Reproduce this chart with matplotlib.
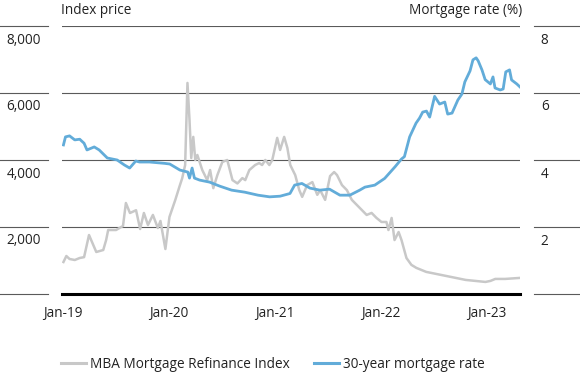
import matplotlib
matplotlib.use("Agg")
import matplotlib.pyplot as plt
import matplotlib.dates as mdates
import matplotlib.transforms as mtransforms
import pandas as pd

# MBA Mortgage Refinance Index (left axis)
refi_dates = [
    "2019-01-03", "2019-01-13", "2019-01-24", "2019-02-11", "2019-02-28", "2019-03-15",
    "2019-04-01", "2019-04-26", "2019-05-20", "2019-05-30", "2019-06-06", "2019-07-03",
    "2019-07-27", "2019-08-06", "2019-08-20", "2019-09-10", "2019-09-24", "2019-10-07",
    "2019-10-21", "2019-11-07", "2019-11-24", "2019-12-03", "2019-12-20", "2020-01-03",
    "2020-01-23", "2020-02-06", "2020-02-16", "2020-02-26", "2020-03-05", "2020-03-12",
    "2020-03-18", "2020-03-25", "2020-04-01", "2020-04-08", "2020-04-25", "2020-05-12",
    "2020-05-22", "2020-06-02", "2020-06-16", "2020-07-03", "2020-07-20", "2020-08-07",
    "2020-08-24", "2020-09-10", "2020-09-20", "2020-10-04", "2020-10-24", "2020-11-07",
    "2020-11-17", "2020-11-28", "2020-12-12", "2020-12-22", "2021-01-08", "2021-01-18",
    "2021-02-01", "2021-02-12", "2021-02-22", "2021-03-11", "2021-03-25", "2021-04-04",
    "2021-04-21", "2021-05-09", "2021-05-26", "2021-06-05", "2021-06-22", "2021-07-09",
    "2021-07-23", "2021-08-02", "2021-08-19", "2021-09-05", "2021-09-22", "2021-10-09",
    "2021-10-26", "2021-11-12", "2021-11-29", "2021-12-16", "2022-01-02", "2022-01-19",
    "2022-01-26", "2022-02-06", "2022-02-16", "2022-03-02", "2022-03-12", "2022-03-29",
    "2022-04-15", "2022-05-02", "2022-06-05", "2022-07-09", "2022-08-12", "2022-09-15",
    "2022-10-19", "2022-11-22", "2022-12-26", "2023-01-12", "2023-01-29", "2023-03-04",
    "2023-04-20",
]
refi_values = [
    955, 1134, 1045, 1015, 1075, 1100,
    1761, 1254, 1313, 1612, 1910, 1910,
    2030, 2716, 2418, 2500, 1940, 2418,
    2060, 2360, 1970, 2180, 1343, 2300,
    2806, 3194, 3460, 3850, 6300, 5200,
    4060, 4690, 4000, 4150, 3700, 3400,
    3700, 3160, 3550, 3940, 4000, 3400,
    3300, 3460, 3400, 3700, 3850, 3910,
    3850, 4000, 3850, 4000, 4660, 4300,
    4690, 4360, 3850, 3550, 3100, 2900,
    3250, 3340, 2960, 3100, 2810, 3520,
    3640, 3550, 3250, 3100, 2810, 2660,
    2510, 2360, 2420, 2270, 2150, 2150,
    1910, 2270, 1610, 1850, 1610, 1075,
    870, 780, 660, 600, 540, 480,
    420, 390, 360, 390, 450, 450,
    478,
]

# 30-year mortgage rate (right axis, %)
rate_dates = [
    "2019-01-03", "2019-01-10", "2019-01-24", "2019-02-11", "2019-02-28", "2019-03-15",
    "2019-03-25", "2019-04-19", "2019-05-06", "2019-06-03", "2019-07-07", "2019-08-01",
    "2019-08-19", "2019-09-09", "2019-09-22", "2019-10-26", "2019-12-17", "2020-01-04",
    "2020-02-08", "2020-03-06", "2020-03-12", "2020-03-21", "2020-03-29", "2020-04-16",
    "2020-05-20", "2020-06-24", "2020-08-04", "2020-09-18", "2020-11-03", "2020-12-13",
    "2021-01-18", "2021-02-21", "2021-03-09", "2021-04-03", "2021-05-01", "2021-06-04",
    "2021-07-07", "2021-08-12", "2021-09-15", "2021-10-19", "2021-11-06", "2021-12-10",
    "2022-01-13", "2022-02-18", "2022-03-12", "2022-03-22", "2022-04-09", "2022-05-01",
    "2022-05-13", "2022-05-24", "2022-06-06", "2022-06-17", "2022-07-04", "2022-07-21",
    "2022-08-08", "2022-08-18", "2022-09-02", "2022-09-22", "2022-10-06", "2022-10-16",
    "2022-11-03", "2022-11-13", "2022-11-24", "2022-12-01", "2022-12-14", "2022-12-25",
    "2023-01-12", "2023-01-21", "2023-01-28", "2023-02-15", "2023-02-25", "2023-03-06",
    "2023-03-19", "2023-03-26", "2023-04-13", "2023-04-24",
]
rate_values = [
    4.45, 4.69, 4.72, 4.60, 4.62, 4.50,
    4.30, 4.39, 4.30, 4.06, 4.00, 3.85,
    3.76, 3.97, 3.94, 3.94, 3.90, 3.88,
    3.70, 3.64, 3.46, 3.76, 3.46, 3.40,
    3.34, 3.22, 3.10, 3.04, 2.95, 2.90,
    2.92, 3.00, 3.25, 3.30, 3.16, 3.10,
    3.13, 2.95, 2.95, 3.10, 3.19, 3.25,
    3.45, 3.80, 4.03, 4.10, 4.69, 5.10,
    5.25, 5.43, 5.46, 5.28, 5.90, 5.67,
    5.73, 5.37, 5.40, 5.79, 5.97, 6.33,
    6.66, 6.99, 7.05, 6.96, 6.69, 6.40,
    6.27, 6.48, 6.15, 6.09, 6.12, 6.63,
    6.69, 6.39, 6.27, 6.18,
]

left_ticks = [2000, 4000, 6000, 8000]
right_ticks = [2, 4, 6, 8]
year_ticks = ["2019-01-01", "2020-01-01", "2021-01-01", "2022-01-01", "2023-01-01"]

GRAY = "#c8c8c8"
BLUE = "#62acd9"
GRID = "#5a5a5a"
TXT = "#222222"
FS = 9.8

plt.rcParams["font.family"] = ["Open Sans", "DejaVu Sans"]
plt.rcParams["font.size"] = FS

refi_x = pd.to_datetime(refi_dates)
rate_x = pd.to_datetime(rate_dates)

fig = plt.figure(figsize=(5.8, 3.74), dpi=100)
W, H = 580, 374
ax = fig.add_axes([62 / W, 1 - 294 / H, (520 - 62) / W, (294 - 26) / H])
ax2 = ax.twinx()

ax.set_ylim(0, 8000)
ax2.set_ylim(0, 8)
ax.set_xlim(pd.Timestamp("2018-12-29"), pd.Timestamp("2023-04-24"))

ax.plot(refi_x, refi_values, color=GRAY, lw=1.8, zorder=3)
ax2.plot(rate_x, rate_values, color=BLUE, lw=2.0, zorder=3)

# gridlines, extended past the axes on both sides (with gaps)
trans = mtransforms.blended_transform_factory(fig.transFigure, ax.transData)
for v in left_ticks + [0]:
    if v > 0:
        ax.axhline(v, color=GRID, lw=0.8, zorder=1)
    ax.plot([0, 48 / W], [v, v], transform=trans, color=GRID, lw=0.8, clip_on=False)
    ax.plot([534 / W, 1], [v, v], transform=trans, color=GRID, lw=0.8, clip_on=False)

for a in (ax, ax2):
    for s in a.spines.values():
        s.set_visible(False)
ax.spines["bottom"].set_visible(True)
ax.spines["bottom"].set_linewidth(2.2)
ax.spines["bottom"].set_color("black")
ax.spines["bottom"].set_zorder(5)

# y labels sit just below their gridline (~12 px)
shift = mtransforms.ScaledTranslation(0, -12 / 100, fig.dpi_scale_trans)

ax.set_yticks(left_ticks)
ax.set_yticklabels([f"{v:,}" for v in left_ticks])
ax.tick_params(axis="y", length=0, pad=15, labelsize=FS, labelcolor=TXT)
for lab in ax.get_yticklabels():
    lab.set_transform(lab.get_transform() + shift)

ax2.set_yticks(right_ticks)
ax2.set_yticklabels([str(v) for v in right_ticks])
ax2.tick_params(axis="y", length=0, pad=15, labelsize=FS, labelcolor=TXT)
for lab in ax2.get_yticklabels():
    lab.set_transform(lab.get_transform() + shift)

ax.set_xticks(pd.to_datetime(year_ticks))
ax.xaxis.set_major_formatter(mdates.DateFormatter("%b-%y"))
ax.tick_params(axis="x", length=0, pad=9, labelsize=FS, labelcolor=TXT)

fig.text(61 / W, 1 - 11 / H, "Index price", ha="left", va="center", fontsize=FS, color=TXT)
fig.text(522 / W, 1 - 11 / H, "Mortgage rate (%)", ha="right", va="center", fontsize=FS, color=TXT)

handles = [
    plt.Line2D([], [], color=GRAY, lw=2.2),
    plt.Line2D([], [], color=BLUE, lw=2.2),
]
fig.legend(handles, ["MBA Mortgage Refinance Index", "30-year mortgage rate"],
           loc="center left", bbox_to_anchor=(49 / W, 1 - 364 / H), ncol=2,
           frameon=False, handlelength=1.8, handletextpad=0.3, columnspacing=1.8,
           fontsize=FS, labelcolor=TXT)

fig.savefig("out.png", dpi=100)
